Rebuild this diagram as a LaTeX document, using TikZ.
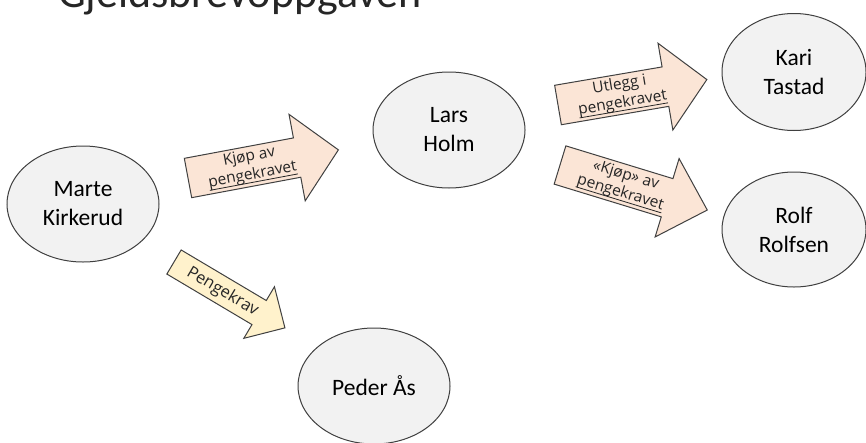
\documentclass[tikz,border=0pt]{standalone}
\usepackage{fontspec}
\setmainfont{Carlito}
\newfontfamily\arrowfont{Open Sans}
\usetikzlibrary{shapes.geometric}
\definecolor{ellfill}{HTML}{F2F2F2}
\definecolor{ellline}{HTML}{404040}
\definecolor{peach}{HTML}{FBE5D6}
\definecolor{cream}{HTML}{FFF2CC}
\newcommand\spellul[1]{\setbox0\hbox{#1}\rlap{\rule[-3.5pt]{\wd0}{0.8pt}}\box0}
\begin{document}
\begin{tikzpicture}[x=1pt,y=-1pt,
  person/.style={ellipse, draw=ellline, line width=1pt, fill=ellfill,
    minimum width=152pt, minimum height=116pt, inner sep=0pt, align=center,
    font=\fontsize{23.5}{29}\selectfont, text=black},
  arrowbody/.style={draw=ellline, line width=1pt, line join=miter},
  arrowtext/.style={align=center, inner sep=0pt, text=black!85,
    font=\arrowfont\fontsize{15.5}{18.5}\selectfont, transform shape}]
\useasboundingbox (0,0) rectangle (866,442);
\clip (0,0) rectangle (866,442);
\fill[white] (0,0) rectangle (866,442);
\node[anchor=base west, inner sep=0pt, font=\fontsize{44}{50}\selectfont, text=black!85] (title) at (58,7) {Gjeldsbrevoppgaven};

\node[person] (marte) at (83,204) {Marte\\Kirkerud};
\node[person] (lars) at (449,130) {Lars\\Holm};
\node[person, minimum width=144pt, minimum height=117pt] (kari) at (794,72) {Kari\\Tastad};
\node[person, minimum width=144pt, minimum height=115pt] (rolf) at (794,229.5) {Rolf\\Rolfsen};
\node[person] (peder) at (374,386) {Peder Ås};

\begin{scope}[shift={(188,178)}, rotate=10.6]
  \draw[arrowbody, fill=peach] (0,-20) -- (111,-20) -- (111,-44) -- (153,0) -- (111,44) -- (111,20) -- (0,20) -- cycle;
  \node[arrowtext] (kjop) at (64,0) {Kjøp av\\\spellul{pengekravet}};
\end{scope}

\begin{scope}[shift={(558,105)}, rotate=9.7]
  \draw[arrowbody, fill=peach] (0,-20) -- (109,-20) -- (109,-44) -- (151,0) -- (109,44) -- (109,20) -- (0,20) -- cycle;
  \node[arrowtext] (utlegg) at (64,0) {Utlegg i\\\spellul{pengekravet}};
\end{scope}

\begin{scope}[shift={(560,165)}, rotate=-17]
  \draw[arrowbody, fill=peach] (0,-20) -- (112,-20) -- (112,-41) -- (154,0) -- (112,41) -- (112,20) -- (0,20) -- cycle;
  \node[arrowtext] (kjop2) at (66,0) {«Kjøp» av\\\spellul{pengekravet}};
\end{scope}

\begin{scope}[shift={(174,262)}, rotate=-30.7]
  \draw[arrowbody, fill=cream] (0,-14) -- (99,-14) -- (99,-30) -- (129,0) -- (99,30) -- (99,14) -- (0,14) -- cycle;
  \node[arrowtext, font=\arrowfont\fontsize{16.5}{19}\selectfont] (krav) at (57,1) {Pengekrav};
\end{scope}
\end{tikzpicture}
\end{document}
